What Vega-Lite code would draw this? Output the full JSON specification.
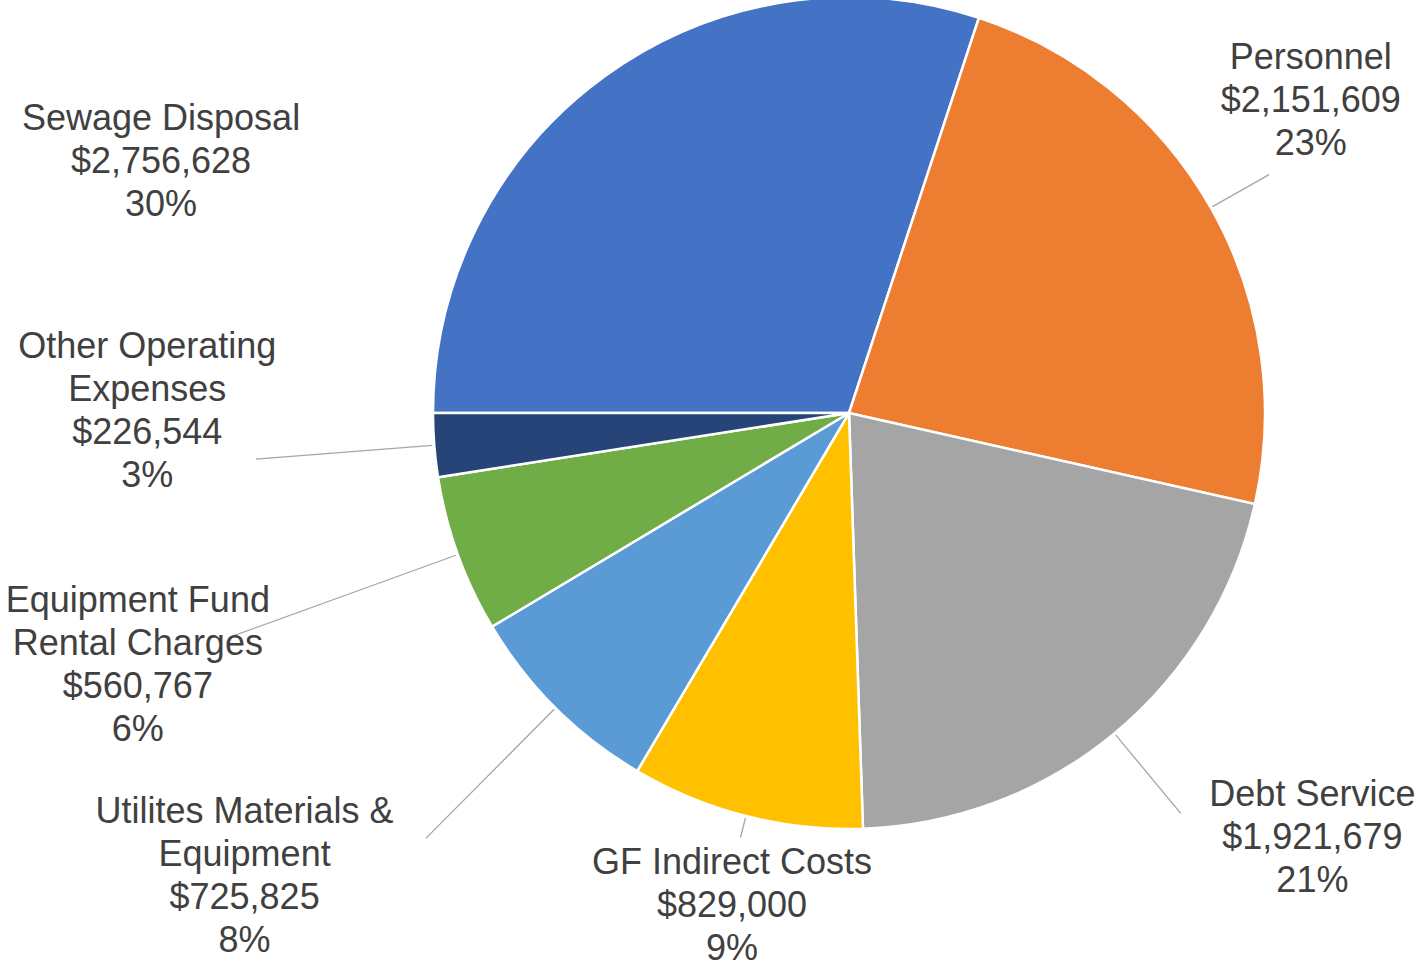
{
  "$schema": "https://vega.github.io/schema/vega-lite/v6.json",
  "width": 832,
  "height": 826,
  "autosize": {"type": "none"},
  "padding": {"left": 433, "top": 0, "right": 153, "bottom": 146},
  "background": "white",
  "config": {"view": {"stroke": null}},
  "data": {
    "values": [
      {"category": "Sewage Disposal", "value": 2756628, "label": "Sewage Disposal\n$2,756,628\n30%", "order": 1},
      {"category": "Personnel", "value": 2151609, "label": "Personnel\n$2,151,609\n23%", "order": 2},
      {"category": "Debt Service", "value": 1921679, "label": "Debt Service\n$1,921,679\n21%", "order": 3},
      {"category": "GF Indirect Costs", "value": 829000, "label": "GF Indirect Costs\n$829,000\n9%", "order": 4},
      {"category": "Utilites Materials & Equipment", "value": 725825, "label": "Utilites Materials &\nEquipment\n$725,825\n8%", "order": 5},
      {"category": "Equipment Fund Rental Charges", "value": 560767, "label": "Equipment Fund\nRental Charges\n$560,767\n6%", "order": 6},
      {"category": "Other Operating Expenses", "value": 226544, "label": "Other Operating\nExpenses\n$226,544\n3%", "order": 7}
    ]
  },
  "transform": [
    {"stack": "value", "groupby": [], "sort": [{"field": "order", "order": "ascending"}], "as": ["v0", "v1"]},
    {"calculate": "(datum.v0 + datum.v1) / 2", "as": "mid"}
  ],
  "layer": [
    {
      "mark": {"type": "arc", "outerRadius": 416, "stroke": "white", "strokeWidth": 2.5},
      "encoding": {
        "theta": {"field": "v0", "type": "quantitative", "scale": {"domain": [0, 9172052], "nice": false, "range": [4.71238898, 10.99557429]}},
        "theta2": {"field": "v1"},
        "color": {
          "field": "category",
          "type": "nominal",
          "scale": {
            "domain": ["Sewage Disposal", "Personnel", "Debt Service", "GF Indirect Costs", "Utilites Materials & Equipment", "Equipment Fund Rental Charges", "Other Operating Expenses"],
            "range": ["#4472C4", "#ED7D31", "#A5A5A5", "#FFC000", "#5B9BD5", "#70AD47", "#264478"]
          },
          "legend": null
        }
      }
    },
    {
      "transform": [{"filter": "datum.order != 1"}],
      "mark": {
        "type": "arc",
        "innerRadius": 418,
        "outerRadius": {"expr": "datum.order == 2 ? 483 : datum.order == 3 ? 520 : datum.order == 4 ? 438 : datum.order == 5 ? 600 : datum.order == 6 ? 655 : 595"},
        "stroke": "#A6A6A6",
        "strokeWidth": 1.3,
        "fillOpacity": 0
      },
      "encoding": {
        "theta": {"field": "mid", "type": "quantitative"},
        "theta2": {"field": "mid"}
      }
    },
    {
      "mark": {
        "type": "text",
        "radius": 416,
        "dx": {"expr": "datum.order == 1 ? -444 : datum.order == 2 ? 100 : datum.order == 3 ? 198 : datum.order == 4 ? -14 : datum.order == 5 ? -311 : datum.order == 6 ? -320 : -287"},
        "dy": {"expr": "datum.order == 1 ? 54 : datum.order == 2 ? -139 : datum.order == 3 ? 73 : datum.order == 4 ? 58 : datum.order == 5 ? 115 : datum.order == 6 ? 57 : -87"},
        "align": "center",
        "baseline": "alphabetic",
        "font": "Liberation Sans",
        "fontSize": 36,
        "lineHeight": 43,
        "lineBreak": "\n",
        "fill": "#404040"
      },
      "encoding": {
        "theta": {"field": "mid", "type": "quantitative"},
        "text": {"field": "label", "type": "nominal"}
      }
    }
  ]
}
